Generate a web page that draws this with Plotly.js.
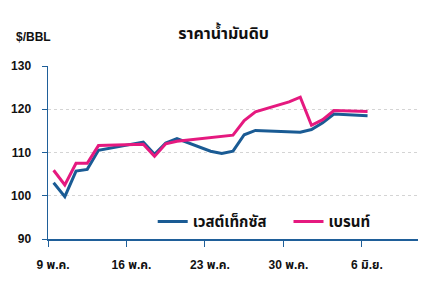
<!DOCTYPE html>
<html>
<head>
<meta charset="utf-8">
<script src="https://cdn.plot.ly/plotly-3.0.1.min.js"></script>
<style>html,body{margin:0;padding:0;background:#fff}#chart{width:430px;height:295px}</style>
</head>
<body>
<div id="chart"></div>
<script>
// West Texas (WTI) trading days and prices
const wtiDates = ["2022-05-09","2022-05-10","2022-05-11","2022-05-12","2022-05-13",
  "2022-05-17","2022-05-18","2022-05-19","2022-05-20",
  "2022-05-23","2022-05-24","2022-05-25","2022-05-26","2022-05-27",
  "2022-05-31","2022-06-01","2022-06-02","2022-06-03","2022-06-06"];
const wtiValues = [103.0, 99.8, 105.7, 106.1, 110.5,
  112.4, 109.6, 112.2, 113.2,
  110.3, 109.8, 110.3, 114.1, 115.1,
  114.7, 115.3, 116.9, 118.9, 118.5];

// Brent trading days and prices
const brentDates = ["2022-05-09","2022-05-10","2022-05-11","2022-05-12","2022-05-13",
  "2022-05-17","2022-05-18","2022-05-19","2022-05-20",
  "2022-05-23","2022-05-24","2022-05-25","2022-05-26","2022-05-27",
  "2022-05-30","2022-05-31","2022-06-01","2022-06-02","2022-06-03","2022-06-06"];
const brentValues = [105.9, 102.5, 107.5, 107.5, 111.6,
  111.9, 109.1, 112.0, 112.6,
  113.4, 113.6, 114.0, 117.4, 119.4,
  121.7, 122.8, 116.3, 117.6, 119.7, 119.5];

const seriesNames = ["เวสต์เท็กซัส", "เบรนท์"];
const tickDates = ["2022-05-09","2022-05-16","2022-05-23","2022-05-30","2022-06-06"];
const tickLabels = ["9 พ.ค.", "16 พ.ค.", "23 พ.ค.", "30 พ.ค.", "6 มิ.ย."];
const yTicks = [90, 100, 110, 120, 130];

const midDay = d => d + " 12:00";
const axisColor = "#1f5f99";
const FONT = "Liberation Sans, Arial, Noto Sans Thai, sans-serif";

const traces = [
  {x: wtiDates.map(midDay), y: wtiValues, name: seriesNames[0], type: "scatter", mode: "lines",
   line: {color: "#1a5b94", width: 3}, legend: "legend"},
  {x: brentDates.map(midDay), y: brentValues, name: seriesNames[1], type: "scatter", mode: "lines",
   line: {color: "#e5197f", width: 3}, legend: "legend2"}
];

const legendStyle = (xPos) => ({
  orientation: "h", x: xPos, xanchor: "left", y: 0.1, yanchor: "middle",
  bgcolor: "rgba(0,0,0,0)", font: {family: FONT, size: 15, color: "#111", weight: "bold"},
  itemwidth: 30
});

const layout = {
  width: 430, height: 295,
  margin: {l: 48, r: 12, t: 66, b: 56},
  paper_bgcolor: "#fff", plot_bgcolor: "#fff",
  font: {family: FONT, color: "#111", size: 12},
  title: {text: "ราคาน้ำมันดิบ", x: 0.52, xref: "container", xanchor: "center",
          y: 0.888, yref: "container", yanchor: "middle",
          font: {family: FONT, size: 16, color: "#111", weight: "bold"}},
  xaxis: {type: "date", range: ["2022-05-09", "2022-06-11"],
          tickvals: tickDates, ticktext: tickLabels,
          showgrid: false, zeroline: false,
          showline: true, linecolor: axisColor, linewidth: 1.5,
          ticks: "outside", ticklen: 6, tickcolor: axisColor, tickwidth: 1,
          tickfont: {family: FONT, size: 12, color: "#111", weight: "bold"},
          ticklabelstandoff: 8, ticklabelshift: 5, fixedrange: true},
  yaxis: {range: [90, 130], tickvals: yTicks,
          showgrid: true, gridcolor: "#d4d4d4", griddash: "dot", gridwidth: 1,
          zeroline: false, showline: true, linecolor: axisColor, linewidth: 1.5,
          ticks: "outside", ticklen: 5, tickcolor: axisColor, tickwidth: 1,
          tickfont: {family: FONT, size: 12, color: "#111", weight: "bold"},
          ticklabelstandoff: 8, fixedrange: true},
  showlegend: true,
  legend: legendStyle(0.283),
  legend2: legendStyle(0.65),
  annotations: [
    {text: "$/BBL", xref: "paper", yref: "paper", x: -0.04, y: 1.17,
     xanchor: "center", yanchor: "middle", showarrow: false,
     font: {family: FONT, size: 12, color: "#111", weight: "bold"}}
  ]
};

Plotly.newPlot("chart", traces, layout, {staticPlot: true, displayModeBar: false});
</script>
</body>
</html>
